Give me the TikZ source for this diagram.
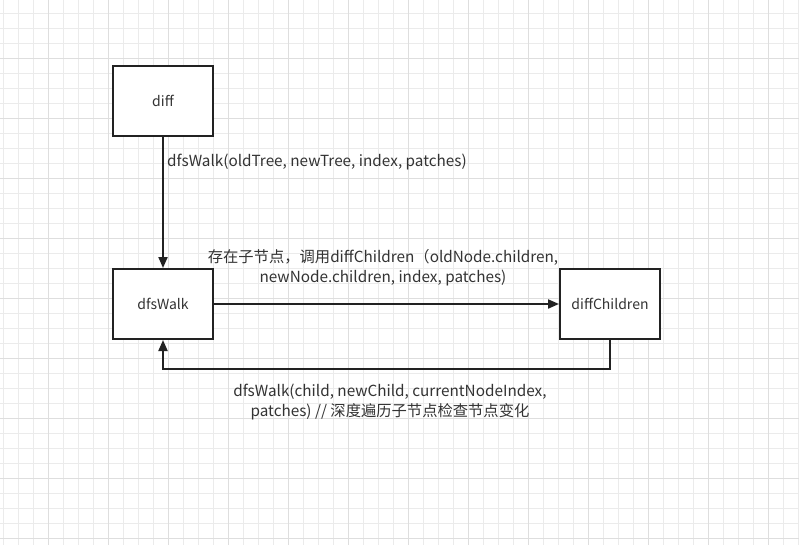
\documentclass[tikz,border=0pt]{standalone}
\usepackage{fontspec}
\setmainfont{Noto Sans CJK SC}
\usetikzlibrary{arrows.meta}
\definecolor{txt}{HTML}{333333}
\definecolor{edge}{HTML}{222222}
\definecolor{gminor}{HTML}{EBEBEB}
\definecolor{gmajor}{HTML}{DEDEDE}
\tikzset{
  x=1pt,y=1pt,
  boxnode/.style={draw=edge,line width=2pt,fill=white,minimum width=100pt,minimum height=70pt,inner sep=0pt,
    font=\fontsize{14}{16}\selectfont,text=txt},
  conn/.style={draw=edge,line width=2pt,-{Triangle[length=11pt,width=9pt]}},
  lbl/.style={font=\fontsize{15.3}{20}\selectfont,text=txt,inner sep=0pt,align=center},
  gridminor/.style={draw=gminor,line width=0.8pt},
  gridmajor/.style={draw=gmajor,line width=1pt}
}
\begin{document}
\begin{tikzpicture}
\useasboundingbox (0,0) rectangle (799,-545);
\fill[white] (0,0) rectangle (799,-545);
\foreach \i in {0,...,53} {\draw[gridminor] ({3.3+15*\i},0) -- ({3.3+15*\i},-545);}
\foreach \i in {0,...,36} {\draw[gridminor] (0,{-13.3-15*\i}) -- (799,{-13.3-15*\i});}
\foreach \i in {0,...,12} {\draw[gridmajor] ({48.3+60*\i},0) -- ({48.3+60*\i},-545);}
\foreach \i in {0,...,9} {\draw[gridmajor] (0,{-58.3-60*\i}) -- (799,{-58.3-60*\i});}

\node[boxnode] (diff) at (163,-101) {diff};
\node[boxnode] (walk) at (163,-304) {dfsWalk};
\node[boxnode] (children) at (610,-304) {diffChildren};
\coordinate (c1) at (610,-368.5);
\coordinate (c2) at (163,-368.5);

\draw[conn] (diff) -- (walk);
\draw[conn] (walk) -- (children);
\draw[conn] (children.south) -- (c1) -- (c2) -- (walk.south);

\node[lbl,anchor=west] (l1) at (167,-162) {dfsWalk(oldTree, newTree, index, patches)};
\node[lbl] (l2) at (383,-268) {存在子节点，调用diffChildren（oldNode.children,\\newNode.children, index, patches)};
\node[lbl] (l3) at (390,-402) {dfsWalk(child, newChild, currentNodeIndex,\\patches) // 深度遍历子节点检查节点变化};
\end{tikzpicture}
\end{document}
